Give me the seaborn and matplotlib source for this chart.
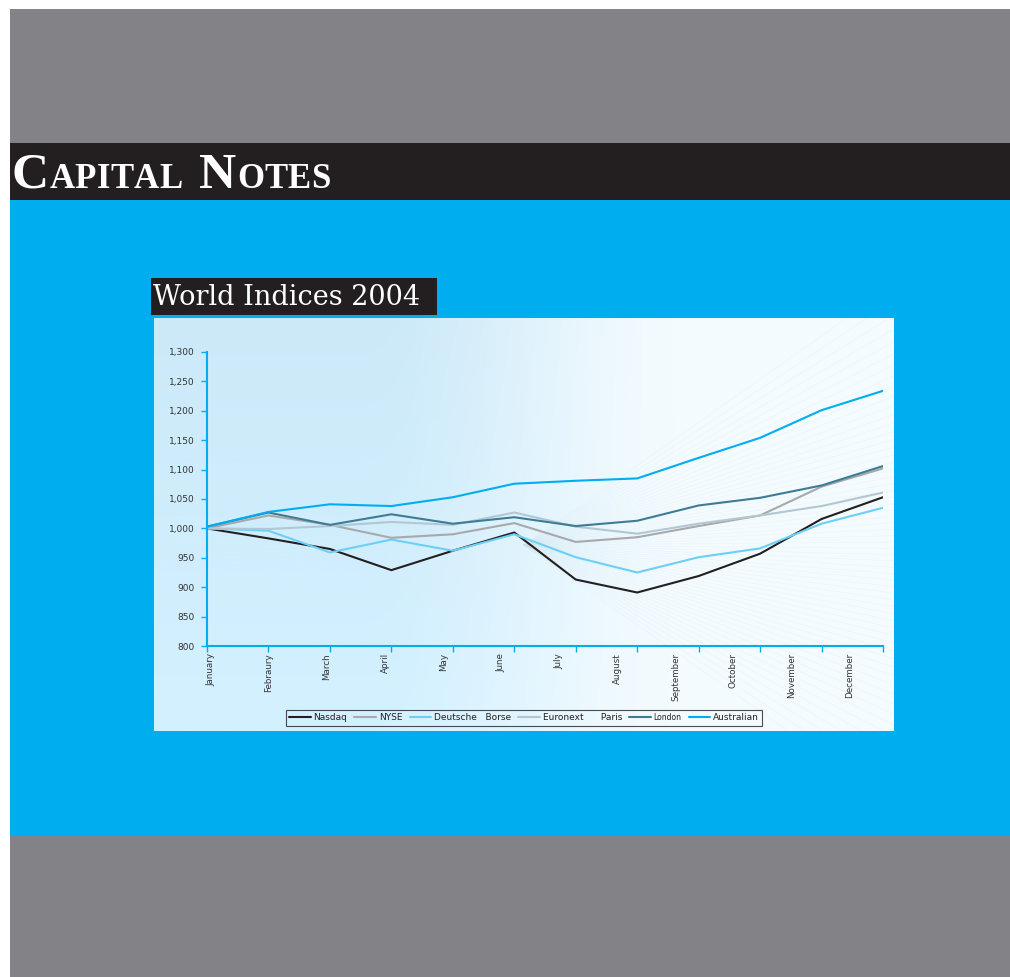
import matplotlib
matplotlib.use("Agg")
import matplotlib.pyplot as plt
from matplotlib.patches import Rectangle
from matplotlib.ticker import FuncFormatter
import numpy as np
import pandas as pd
import seaborn as sns

# values
months = ["January", "Febraury", "March", "April", "May", "June", "July",
          "August", "September", "October", "November", "December"]
nasdaq = [1000, 983, 965, 929, 962, 993, 913, 891, 919, 957, 1016, 1053]
nyse = [1000, 1022, 1006, 984, 990, 1009, 977, 985, 1004, 1022, 1071, 1102]
deutsche = [1000, 996, 959, 981, 962, 990, 951, 925, 951, 966, 1008, 1035]
euronext = [1000, 999, 1004, 1011, 1006, 1027, 1003, 991, 1008, 1022, 1038, 1061]
london = [1003, 1027, 1006, 1024, 1008, 1019, 1004, 1013, 1039, 1052, 1073, 1106]
australian = [1003, 1028, 1041, 1038, 1053, 1076, 1081, 1085, 1120, 1154, 1201, 1234]

series_names = ["Nasdaq", "NYSE", "Deutsche   Borse", "Euronext      Paris", "London", "Australian"]
series_colors = ["#231f20", "#a7a9ac", "#6dcff6", "#b3c7d3", "#3d7c94", "#00aeef"]

GREY = "#838387"
BLACK = "#231f20"
BLUE = "#00aeef"

df = pd.DataFrame({"idx": range(len(months))})
for name, vals in zip(series_names, [nasdaq, nyse, deutsche, euronext, london, australian]):
    df[name] = vals
long = df.melt(id_vars="idx", var_name="index", value_name="value")

sns.set_theme(style="ticks")
plt.rcParams["font.family"] = ["DejaVu Sans"]

W, H = 1010, 977
fig = plt.figure(figsize=(W / 100, H / 100), dpi=100)
fig.patch.set_facecolor("white")

# page background in pixel coordinates
bg = fig.add_axes([0, 0, 1, 1])
bg.set_xlim(0, W)
bg.set_ylim(H, 0)
bg.axis("off")
bg.add_patch(Rectangle((10, 9), 1000, 134, color=GREY, lw=0))
bg.add_patch(Rectangle((10, 143), 1000, 57, color=BLACK, lw=0))
bg.add_patch(Rectangle((10, 200), 1000, 636, color=BLUE, lw=0))
bg.add_patch(Rectangle((10, 836), 1000, 141, color=GREY, lw=0))
bg.add_patch(Rectangle((151, 278), 286, 37, color=BLACK, lw=0))

renderer = fig.canvas.get_renderer()


def small_caps(x, y, word, big, small):
    for i, ch in enumerate(word):
        t = bg.text(x, y, ch, fontsize=big if i == 0 else small, color="white",
                    family="Liberation Serif", weight="bold", ha="left", va="baseline")
        x += t.get_window_extent(renderer).width + 0.3
    return x


x = small_caps(12, 188, "CAPITAL", 37, 25)
small_caps(x + 17, 188, "NOTES", 37, 25)

bg.text(153, 305, "World Indices 2004", fontsize=19.5, color="white",
        family="DejaVu Serif", ha="left", va="baseline")

# chart panel with soft gradient
pa = fig.add_axes([154 / W, 1 - 731 / H, 740 / W, 413 / H])
gx = np.linspace(0, 1, 400)
gy = np.linspace(0, 1, 200)
GX, GY = np.meshgrid(gx, gy)
t = np.clip((GX - 0.28) / 0.45, 0, 1)
t = t * t * (3 - 2 * t)
left_c = np.array([0.80, 0.915, 0.975])
right_c = np.array([0.955, 0.985, 0.998])
img = left_c[None, None, :] * (1 - t[..., None]) + right_c[None, None, :] * t[..., None]
img = np.clip(img + 0.03 * (1 - GY[..., None]) * (1 - t[..., None]), 0, 1)
pa.imshow(img, extent=[0, 1, 0, 1], aspect="auto", origin="lower")
for ang in np.linspace(-0.9, 0.9, 60):
    pa.plot([0.5, 0.5 + 2 * np.cos(ang)], [0.45, 0.45 + 2 * np.sin(ang)],
            color="#c8dde8", lw=0.4, alpha=0.2)
    pa.plot([0.5, 0.5 - 2 * np.cos(ang)], [0.45, 0.45 - 2 * np.sin(ang)],
            color="#e6f4fb", lw=0.4, alpha=0.2)
pa.set_xlim(0, 1)
pa.set_ylim(0, 1)
pa.axis("off")

# main chart
ax = fig.add_axes([207 / W, 1 - 646 / H, 676 / W, 294 / H])
ax.patch.set_alpha(0)
sns.lineplot(data=long, x="idx", y="value", hue="index", hue_order=series_names,
             palette=series_colors, linewidth=1.5, ax=ax, sort=False)
ax.set_xlim(0, len(months) - 1)
ax.set_ylim(800, 1300)
ax.set_yticks(range(800, 1301, 50))
ax.yaxis.set_major_formatter(FuncFormatter(lambda v, p: f"{int(v):,}"))
ax.set_xticks(range(len(months)))
ax.set_xticklabels([])
lab_pos = [i * 58.0 / 61.4 + 4 / 61.4 for i in range(len(months))]
ax.set_xticks(lab_pos, minor=True)
ax.set_xticklabels(months, minor=True, rotation=90, fontsize=6.3, color="#333333", va="top")
ax.tick_params(axis="x", which="minor", length=0, pad=5)
ax.tick_params(axis="both", which="major", color=BLUE, length=4, width=1, labelsize=6.5,
               labelcolor="#333333")
ax.tick_params(axis="y", pad=5)
ax.set_xlabel("")
ax.set_ylabel("")
for side in ["top", "right"]:
    ax.spines[side].set_visible(False)
for side in ["left", "bottom"]:
    ax.spines[side].set_color(BLUE)
    ax.spines[side].set_linewidth(1.5)

handles, labels = ax.get_legend_handles_labels()
ax.get_legend().remove()
leg = fig.legend(handles, labels, loc="center", bbox_to_anchor=(524 / W, 1 - 718 / H),
                 ncol=6, fontsize=6.5, frameon=True, handlelength=2.4, handletextpad=0.3,
                 columnspacing=0.8, borderpad=0.35, fancybox=False)
leg.get_frame().set_edgecolor("#231f20")
leg.get_frame().set_facecolor("none")
leg.get_frame().set_linewidth(0.8)
for txt in leg.get_texts():
    txt.set_color("#231f20")
leg.get_texts()[4].set_fontsize(5.5)

fig.savefig("out.png", dpi=100)
